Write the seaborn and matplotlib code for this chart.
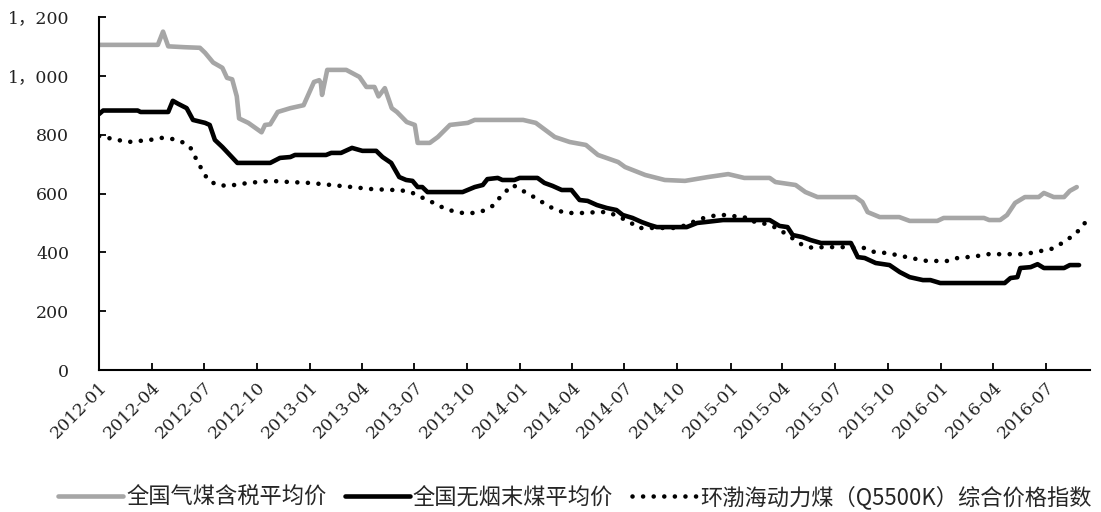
import matplotlib
matplotlib.use("Agg")
import matplotlib.pyplot as plt
import matplotlib.dates as mdates
from matplotlib.ticker import FixedLocator, FuncFormatter
import pandas as pd
import seaborn as sns

# 全国气煤含税平均价 (元/吨)
gas_coal_dates = [
    "2012-01-01", "2012-04-07", "2012-04-12", "2012-04-21", "2012-04-30", "2012-05-29",
    "2012-06-24", "2012-07-03", "2012-07-17", "2012-08-02", "2012-08-10", "2012-08-19",
    "2012-08-27", "2012-08-31", "2012-09-16", "2012-10-09", "2012-10-15", "2012-10-24",
    "2012-11-06", "2012-11-28", "2012-12-21", "2013-01-08", "2013-01-17", "2013-01-20",
    "2013-01-22", "2013-01-31", "2013-03-05", "2013-03-28", "2013-04-09", "2013-04-23",
    "2013-04-30", "2013-05-11", "2013-05-23", "2013-06-01", "2013-06-18", "2013-07-02",
    "2013-07-07", "2013-07-28", "2013-08-11", "2013-09-01", "2013-10-02", "2013-10-14",
    "2014-01-06", "2014-01-28", "2014-03-02", "2014-03-28", "2014-04-25", "2014-05-16",
    "2014-06-20", "2014-07-02", "2014-08-06", "2014-09-09", "2014-10-14", "2014-11-23",
    "2014-12-28", "2015-01-25", "2015-03-10", "2015-03-20", "2015-04-24", "2015-05-11",
    "2015-06-01", "2015-08-06", "2015-08-18", "2015-08-27", "2015-09-17", "2015-10-21",
    "2015-11-08", "2015-12-26", "2016-01-06", "2016-03-16", "2016-03-25", "2016-04-13",
    "2016-04-25", "2016-05-09", "2016-05-26", "2016-06-19", "2016-06-28", "2016-07-15",
    "2016-08-02", "2016-08-12", "2016-08-24",
]
gas_coal_values = [
    1105, 1105, 1105, 1150, 1100, 1097,
    1095, 1078, 1045, 1027, 993, 988,
    930, 855, 840, 808, 833, 835,
    877, 890, 900, 979, 985, 975,
    935, 1020, 1020, 996, 962, 962,
    930, 958, 890, 877, 843, 833,
    772, 772, 792, 833, 840, 850,
    850, 840, 792, 775, 765, 731,
    707, 690, 663, 646, 643, 656,
    666, 653, 653, 639, 629, 605,
    588, 588, 571, 537, 520, 520,
    507, 507, 517, 517, 510, 510,
    527, 568, 588, 588, 602, 588,
    588, 609, 622,
]

# 全国无烟末煤平均价 (元/吨)
anthracite_dates = [
    "2012-01-01", "2012-01-08", "2012-03-08", "2012-03-13", "2012-04-30", "2012-05-08",
    "2012-05-17", "2012-05-24", "2012-06-01", "2012-06-12", "2012-07-03", "2012-07-11",
    "2012-07-20", "2012-08-02", "2012-08-15", "2012-08-28", "2012-10-24", "2012-11-10",
    "2012-11-28", "2012-12-06", "2013-01-29", "2013-02-07", "2013-02-24", "2013-03-15",
    "2013-04-02", "2013-04-26", "2013-05-07", "2013-05-22", "2013-06-05", "2013-06-17",
    "2013-06-28", "2013-07-07", "2013-07-15", "2013-07-24", "2013-09-23", "2013-10-14",
    "2013-10-28", "2013-11-05", "2013-11-23", "2013-12-01", "2013-12-22", "2013-12-31",
    "2014-01-31", "2014-02-12", "2014-02-26", "2014-03-14", "2014-03-31", "2014-04-14",
    "2014-04-28", "2014-05-14", "2014-05-31", "2014-06-17", "2014-06-28", "2014-07-15",
    "2014-07-31", "2014-08-14", "2014-08-26", "2014-10-17", "2014-11-04", "2014-11-18",
    "2014-12-19", "2015-03-10", "2015-03-27", "2015-04-10", "2015-04-19", "2015-05-06",
    "2015-05-20", "2015-06-07", "2015-07-29", "2015-08-10", "2015-08-22", "2015-09-10",
    "2015-10-04", "2015-10-22", "2015-11-08", "2015-12-01", "2015-12-14", "2015-12-31",
    "2016-04-21", "2016-05-01", "2016-05-13", "2016-05-18", "2016-06-05", "2016-06-17",
    "2016-06-28", "2016-08-02", "2016-08-12", "2016-08-28",
]
anthracite_values = [
    870, 882, 882, 877, 877, 915,
    905, 898, 890, 850, 840, 833,
    782, 758, 731, 704, 704, 721,
    724, 731, 731, 738, 738, 755,
    745, 745, 724, 704, 656, 646,
    643, 622, 622, 605, 605, 622,
    629, 649, 653, 646, 646, 653,
    653, 636, 626, 612, 612, 578,
    575, 561, 551, 544, 527, 517,
    503, 493, 486, 486, 500, 503,
    510, 510, 490, 486, 459, 452,
    442, 432, 432, 384, 381, 364,
    357, 333, 316, 306, 306, 296,
    296, 313, 316, 347, 350, 360,
    347, 347, 357, 357,
]

# 环渤海动力煤（Q5500K）综合价格指数 (元/吨)
bohai_dates = [
    "2012-01-01", "2012-01-16", "2012-02-20", "2012-03-29", "2012-04-19", "2012-05-08",
    "2012-05-24", "2012-06-07", "2012-06-14", "2012-06-21", "2012-06-30", "2012-07-08",
    "2012-07-24", "2012-08-12", "2012-09-16", "2012-10-24", "2012-11-28", "2013-01-01",
    "2013-02-07", "2013-03-15", "2013-04-19", "2013-05-27", "2013-06-17", "2013-07-04",
    "2013-07-18", "2013-08-04", "2013-08-18", "2013-09-05", "2013-09-23", "2013-10-10",
    "2013-10-28", "2013-11-14", "2013-11-26", "2013-12-08", "2013-12-19", "2014-01-01",
    "2014-01-15", "2014-02-01", "2014-02-15", "2014-03-02", "2014-03-20", "2014-04-25",
    "2014-05-13", "2014-06-03", "2014-07-09", "2014-07-25", "2014-08-26", "2014-09-27",
    "2014-10-17", "2014-11-04", "2014-11-21", "2014-12-10", "2014-12-27", "2015-01-17",
    "2015-02-04", "2015-02-12", "2015-03-06", "2015-03-22", "2015-04-08", "2015-05-06",
    "2015-05-24", "2015-06-10", "2015-07-15", "2015-08-22", "2015-09-08", "2015-09-29",
    "2015-10-17", "2015-11-03", "2015-11-21", "2015-12-08", "2016-01-14", "2016-01-30",
    "2016-02-16", "2016-03-05", "2016-03-22", "2016-05-19", "2016-06-05", "2016-06-23",
    "2016-07-10", "2016-07-24", "2016-08-09", "2016-08-23", "2016-09-04", "2016-09-13",
]
bohai_values = [
    795, 789, 775, 782, 789, 785,
    775, 758, 731, 704, 673, 646,
    629, 626, 636, 643, 639, 636,
    629, 622, 615, 612, 609, 598,
    583, 568, 554, 541, 534, 534,
    541, 558, 585, 609, 629, 615,
    598, 581, 561, 547, 534, 534,
    537, 537, 505, 483, 483, 483,
    493, 510, 520, 527, 527, 520,
    517, 503, 496, 483, 462, 425,
    415, 418, 418, 415, 401, 398,
    391, 384, 377, 371, 371, 381,
    384, 388, 394, 394, 398, 405,
    411, 425, 445, 466, 490, 520,
]

series_names = ["全国气煤含税平均价", "全国无烟末煤平均价", "环渤海动力煤（Q5500K）综合价格指数"]
y_ticks = [0, 200, 400, 600, 800, 1000, 1200]

sns.set_theme(style="ticks")
plt.rcParams["font.family"] = ["Noto Sans CJK SC", "DejaVu Sans"]

fig = plt.figure(figsize=(11.01, 5.12), dpi=100)
ax = fig.add_axes([0.09, 0.277, 0.9, 0.69])

gas_df = pd.DataFrame({"date": pd.to_datetime(gas_coal_dates), "price": gas_coal_values})
anth_df = pd.DataFrame({"date": pd.to_datetime(anthracite_dates), "price": anthracite_values})
bohai_df = pd.DataFrame({"date": pd.to_datetime(bohai_dates), "price": bohai_values})

sns.lineplot(data=gas_df, x="date", y="price", ax=ax, color="#a6a6a6",
             linewidth=3.3, label=series_names[0], estimator=None)
sns.lineplot(data=anth_df, x="date", y="price", ax=ax, color="black",
             linewidth=3.3, label=series_names[1], estimator=None)
sns.lineplot(data=bohai_df, x="date", y="price", ax=ax, color="black",
             linewidth=3.3, linestyle=(0, (0.01, 2.3)), dash_capstyle="round",
             label=series_names[2], estimator=None)

ax.set_xlim(pd.Timestamp("2012-01-01"), pd.Timestamp("2016-09-16"))
ax.set_ylim(0, 1200)
ax.set_xlabel("")
ax.set_ylabel("")

ax.yaxis.set_major_locator(FixedLocator(y_ticks))
ax.yaxis.set_major_formatter(FuncFormatter(
    lambda v, _: f"{int(v) // 1000}，{int(v) % 1000:03d}" if v >= 1000 else f"{int(v)}"))
ax.xaxis.set_major_locator(mdates.MonthLocator(bymonth=[1, 4, 7, 10]))
ax.xaxis.set_major_formatter(mdates.DateFormatter("%Y-%m"))

tick_font = ["DejaVu Serif", "Noto Sans CJK SC"]
for lbl in ax.get_yticklabels():
    lbl.set_family(tick_font)
    lbl.set_fontsize(12.5)
    lbl.set_color("#222222")
for lbl in ax.get_xticklabels():
    lbl.set_family(tick_font)
    lbl.set_fontsize(12.5)
    lbl.set_color("#222222")
    lbl.set_rotation(45)
    lbl.set_ha("right")
    lbl.set_rotation_mode("anchor")

ax.tick_params(axis="both", direction="in", length=5, width=1.3, color="black")
ax.tick_params(axis="y", pad=21.5)
ax.tick_params(axis="x", pad=6)
for side in ["top", "right"]:
    ax.spines[side].set_visible(False)
for side in ["left", "bottom"]:
    ax.spines[side].set_color("black")
    ax.spines[side].set_linewidth(1.5)

ax.legend(loc="center", bbox_to_anchor=(0.48, -0.36), ncol=3, frameon=False,
          fontsize=16, handlelength=2.9, handletextpad=0.15, columnspacing=0.85,
          borderaxespad=0)

fig.savefig("out.png", dpi=100)
